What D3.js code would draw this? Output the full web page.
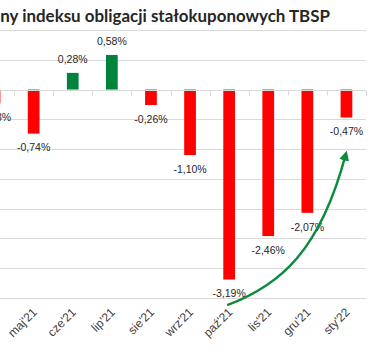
<!DOCTYPE html>
<html><head><meta charset="utf-8">
<script src="https://cdn.jsdelivr.net/npm/d3@7"></script>
<style>
html,body{margin:0;padding:0;background:#fff;overflow:hidden}
svg{display:block}
</style></head>
<body>
<svg id="c" width="380" height="352"></svg>
<script>
const title = "Zmiany indeksu obligacji stałokuponowych TBSP";
const categories = ["kwi'21","maj'21","cze'21","lip'21","sie'21","wrz'21","paź'21","lis'21","gru'21","sty'22"];
const values = [-0.23,-0.74,0.28,0.58,-0.26,-1.10,-3.19,-2.46,-2.07,-0.47];
const labels = ["-0,23%","-0,74%","0,28%","0,58%","-0,26%","-1,10%","-3,19%","-2,46%","-2,07%","-0,47%"];
const yTicks = [-3.5,-3,-2.5,-2,-1.5,-1,-0.5,0,0.5,1];
// arrow annotation anchors in data units: [category, value]
const arrowFrom = ["paź'21", -3.62];
const arrowTo = ["sty'22", -1.04];

const svg = d3.select("#c");
const x = d3.scaleBand().domain(categories).range([-25, 366]).paddingInner(0.7).paddingOuter(0.35);
const xAxisScale = d3.scaleBand().domain(categories).range([-25, 366]);
const y = d3.scaleLinear().domain([-3.5, 1]).range([298, 30]);

// gridlines
svg.append("g").selectAll("line").data(yTicks.filter(d=>d!==0)).join("line")
  .attr("x1", -25).attr("x2", 366)
  .attr("y1", d=>Math.round(y(d))+0.5).attr("y2", d=>Math.round(y(d))+0.5)
  .attr("stroke", "#d9d9d9").attr("stroke-width", 1);

// bars
svg.append("g").selectAll("rect").data(values).join("rect")
  .attr("x", (d,i)=>x(categories[i]))
  .attr("width", x.bandwidth())
  .attr("y", d=>y(Math.max(0,d)))
  .attr("height", d=>Math.abs(y(d)-y(0)))
  .attr("fill", d=>d>=0 ? "#00843d" : "#ff0000");

// zero axis with ticks
const z = Math.round(y(0))+0.5;
const axisG = svg.append("g").attr("transform", `translate(0,${z})`);
axisG.append("line").attr("x1",-25).attr("x2",366).attr("stroke","#d9d9d9");
const bounds = categories.map(c=>xAxisScale(c)).concat([366]);
axisG.selectAll("line.t").data(bounds).join("line").attr("class","t")
  .attr("x1", d=>Math.round(d)+0.5).attr("x2", d=>Math.round(d)+0.5)
  .attr("y1", 0).attr("y2", 5).attr("stroke","#d9d9d9");

// data labels
svg.append("g").selectAll("text").data(values).join("text")
  .attr("x", (d,i)=>x(categories[i])+x.bandwidth()/2)
  .attr("y", d=> d>=0 ? y(d)-14 : y(d)+14)
  .attr("dy", "0.35em")
  .attr("text-anchor","middle")
  .attr("font-family","Liberation Sans, Arial, sans-serif")
  .attr("font-size", 10.5)
  .attr("fill","#262626")
  .text((d,i)=>labels[i]);

// x axis labels
svg.append("g").selectAll("text").data(categories).join("text")
  .attr("transform", d=>`translate(${x(d)+x.bandwidth()/2+4},${313}) rotate(-45)`)
  .attr("text-anchor","end")
  .attr("font-family","Liberation Sans, Arial, sans-serif")
  .attr("font-size", 12)
  .attr("fill","#404040")
  .text(d=>d);

// title (right edge fixed; sized so that the visible part fits)
const tt = svg.append("text").attr("x", 330).attr("y", 22)
  .attr("text-anchor","end")
  .attr("font-family","Lato, sans-serif")
  .attr("font-weight","bold")
  .attr("font-size", 15)
  .attr("fill","#262626")
  .text(title);
const full = tt.node().getComputedTextLength();
const pre = tt.node().getSubStringLength(0, 4);
tt.attr("font-size", 15 * 330 / (full - pre));

// arrow
const defs = svg.append("defs");
defs.append("marker").attr("id","ah").attr("viewBox","0 0 10 10").attr("refX",5).attr("refY",5)
  .attr("markerWidth",4).attr("markerHeight",4).attr("orient","auto")
  .append("path").attr("d","M0,0 L10,5 L0,10 z").attr("fill","#0e8a3e");
const cx = c => x(c)+x.bandwidth()/2;
const x0 = cx(arrowFrom[0])-2, y0 = y(arrowFrom[1]);
const x1 = cx(arrowTo[0]), y1 = y(arrowTo[1]);
const p = d3.path();
p.moveTo(x0,y0);
p.bezierCurveTo(x0+(x1-x0)*0.45, y0-(y0-y1)*0.13, x0+(x1-x0)*0.78, y0-(y0-y1)*0.36, x1-1, y1+4);
svg.append("path").attr("d", p.toString()).attr("fill","none")
  .attr("stroke","#0e8a3e").attr("stroke-width",2.5).attr("marker-end","url(#ah)");
</script>
</body></html>
